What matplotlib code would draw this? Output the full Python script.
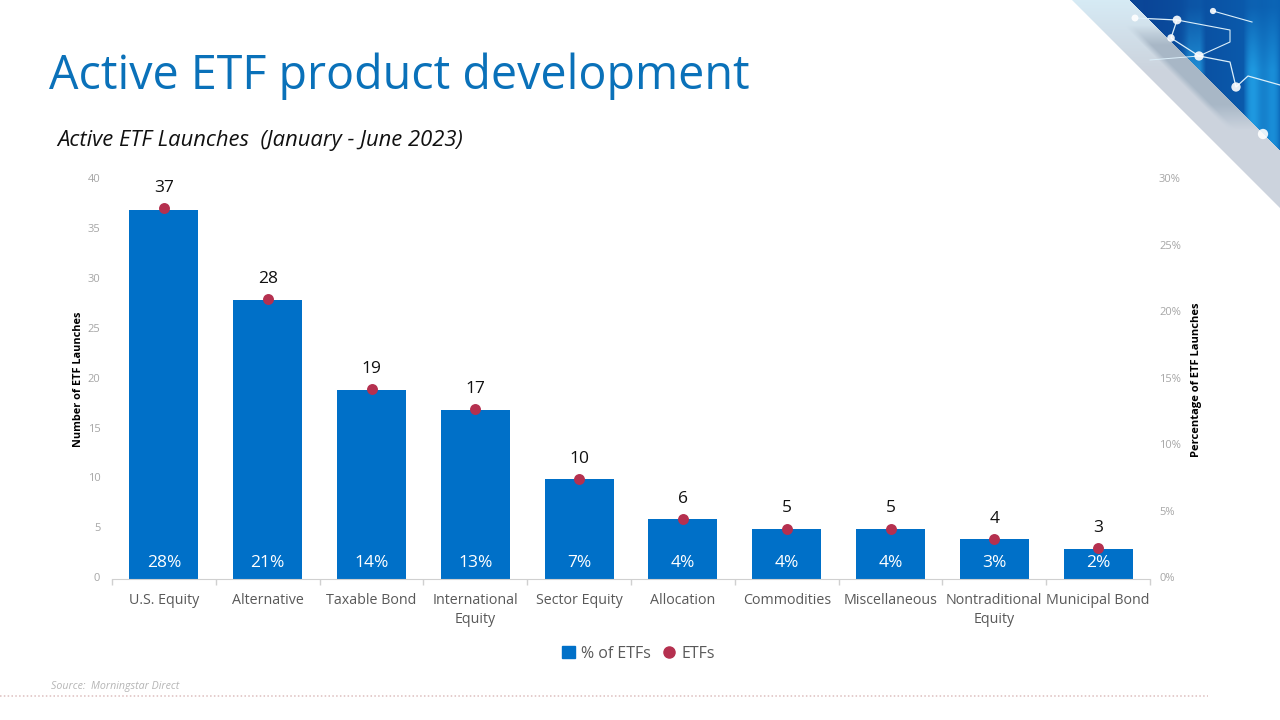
import numpy as np
import matplotlib
matplotlib.use("Agg")
import matplotlib.pyplot as plt
from matplotlib.lines import Line2D
from matplotlib.patches import Patch, Polygon
from matplotlib.transforms import ScaledTranslation

plt.rcParams['font.family'] = ['Open Sans', 'DejaVu Sans']

categories = ['U.S. Equity', 'Alternative', 'Taxable Bond', 'International\nEquity', 'Sector Equity',
              'Allocation', 'Commodities', 'Miscellaneous', 'Nontraditional\nEquity', 'Municipal Bond']
etf_counts = [37, 28, 19, 17, 10, 6, 5, 5, 4, 3]
etf_pct = [27.9, 21.1, 14.3, 12.8, 7.5, 4.5, 3.8, 3.8, 3.0, 2.3]
pct_labels = ['28%', '21%', '14%', '13%', '7%', '4%', '4%', '4%', '3%', '2%']

BLUE = '#0070C8'
RED = '#B5304F'
W, H = 1280, 720

fig = plt.figure(figsize=(W / 100, H / 100), dpi=100, facecolor='white')

# background layer in pixel coords, for the corner picture and footer
bg = fig.add_axes([0, 0, 1, 1])
bg.set_xlim(0, W)
bg.set_ylim(H, 0)
bg.axis('off')

# corner picture: colours worked out from the position inside the triangle
xx, yy = np.meshgrid(np.arange(1072, 1280) + 0.5, np.arange(0, 208) + 0.5)
u = (xx - yy - 1072) / 58
streak = np.clip(np.sin(xx / 11.0) + 0.4 * np.sin(xx / 4.3), 0, 1) * np.clip(yy / 70, 0.1, 1) * 0.8
fade = np.clip((xx - 1130) / 150, 0, 1)
blue = np.dstack([0.04 + 0.10 * streak, 0.26 + 0.12 * fade + 0.30 * streak, 0.58 + 0.12 * fade + 0.25 * streak])
pale = np.array([0.84, 0.92, 0.96])
grey = np.array([0.80, 0.83, 0.87])
dark = np.array([0.66, 0.72, 0.78])
mix = np.clip(yy / 70, 0, 1)[..., None]
band = pale * (1 - mix) + grey * mix
mid = (np.clip((u - 0.45) / 0.15, 0, 1) * np.clip((yy - 25) / 20, 0, 1) * np.clip((130 - yy) / 25, 0, 1))[..., None]
band = band * (1 - mid) + dark * mid
corner = np.where((u >= 1)[..., None], blue, band)
img = bg.imshow(corner, extent=(1072, 1280, 208, 0), aspect='auto', zorder=1, interpolation='bilinear')
img.set_clip_path(Polygon([(1072, 0), (1280, 0), (1280, 208)], transform=bg.transData))
bg.set_xlim(0, W)
bg.set_ylim(H, 0)
bg.plot([1135, 1177, 1171, 1199, 1230, 1236, 1248, 1280], [18, 20, 38, 56, 62, 87, 76, 85],
        color='#DCEFFA', lw=0.9, zorder=2)
bg.plot([1177, 1230, 1230, 1199], [20, 30, 42, 56], color='#DCEFFA', lw=0.8, zorder=2)
bg.plot([1213, 1252], [11, 22], color='#DCEFFA', lw=0.8, zorder=2)
bg.plot([1199, 1150], [56, 60], color='#DCEFFA', lw=0.7, zorder=2)
bg.scatter([1135, 1177, 1171, 1199, 1236, 1263, 1213], [18, 20, 38, 56, 87, 134, 11],
           s=[25, 40, 30, 45, 45, 55, 20], color='white', alpha=0.9, lw=0, zorder=3)

# footer dotted rule
bg.plot([0, 1208], [696, 696], color='#DDBFBF', lw=1.1, ls=(0, (1, 1.5)))

fig.text(49 / W, 1 - 76.5 / H, 'Active ETF product development', fontsize=33.6, color='#0A71B9',
         va='center', ha='left')
fig.text(57 / W, 1 - 140.5 / H, 'Active ETF Launches  (January - June 2023)', fontsize=15.85, style='italic',
         color='#111111', va='center', ha='left')
fig.text(51 / W, 1 - 686 / H, 'Source:  Morningstar Direct', fontsize=7.7, style='italic',
         color='#B5B5B5', va='center', ha='left')

# main axes
ax = fig.add_axes([112 / W, 1 - 579 / H, (1150 - 112) / W, (579 - 180.5) / H])
ax.patch.set_alpha(0)
x = np.arange(len(categories))
ax.bar(x, etf_counts, width=0.665, color=BLUE, zorder=2)
ax.set_xlim(-0.5, len(categories) - 0.5)
ax.set_ylim(0, 40)
ax.set_yticks(range(0, 41, 5))
ax.tick_params(axis='y', length=0, labelsize=8, labelcolor='#A6A6A6', pad=8.4)
ax.set_xticks(np.arange(-0.5, len(categories)), minor=True)
ax.set_xticks(x)
ax.set_xticklabels(categories, fontsize=10.3, color='#595959', linespacing=1.4)
ax.tick_params(axis='x', which='major', length=0, pad=10)
ax.tick_params(axis='x', which='minor', length=4, color='#D0D0D0', width=1)
for s in ['top', 'left', 'right']:
    ax.spines[s].set_visible(False)
ax.spines['bottom'].set_color('#D0D0D0')
ax.set_ylabel('Number of ETF Launches', fontsize=7.8, fontweight='bold', color='black', labelpad=2.6)

# percentage labels near the base of the bars
for xi, lab in zip(x, pct_labels):
    ax.annotate(lab, (xi, 0), xytext=(0, 11.5), textcoords='offset points', ha='center', va='center',
                fontsize=12.5, color='white', zorder=4)

# secondary axis, the dots
ax2 = ax.twinx()
ax2.patch.set_alpha(0)
ax2.scatter(x, etf_pct, s=62, color=RED, lw=0, zorder=5)
ax2.set_ylim(0, 30)
ax2.set_yticks(range(0, 31, 5))
ax2.set_yticklabels([f'{v}%' for v in range(0, 31, 5)])
ax2.tick_params(axis='y', length=0, labelsize=8, labelcolor='#A6A6A6', pad=6.5)
for s in ['top', 'left', 'right', 'bottom']:
    ax2.spines[s].set_visible(False)
ax2.set_ylabel('Percentage of ETF Launches', fontsize=8, fontweight='bold', color='black', labelpad=7.5)

# tick labels sit a little higher than the bars' scale in the original
nudge = ScaledTranslation(0, 2 / 100, fig.dpi_scale_trans)
for lab in ax.get_yticklabels() + ax2.get_yticklabels():
    lab.set_transform(lab.get_transform() + nudge)

for xi, p, n in zip(x, etf_pct, etf_counts):
    ax2.annotate(str(n), (xi, p), xytext=(0, 14.5), textcoords='offset points', ha='center', va='center',
                 fontsize=12.5, color='#111111')

handles = [Patch(color=BLUE, label='% of ETFs'),
           Line2D([], [], marker='o', ls='', color=RED, markersize=8, label='ETFs')]
fig.legend(handles=handles, loc='center', bbox_to_anchor=(638.5 / W, 1 - 653.5 / H), ncol=2, frameon=False,
           fontsize=11.5, labelcolor='#595959', handlelength=0.8, handleheight=0.8, handletextpad=0.4,
           columnspacing=0.7)

fig.savefig('out.png', dpi=100)
